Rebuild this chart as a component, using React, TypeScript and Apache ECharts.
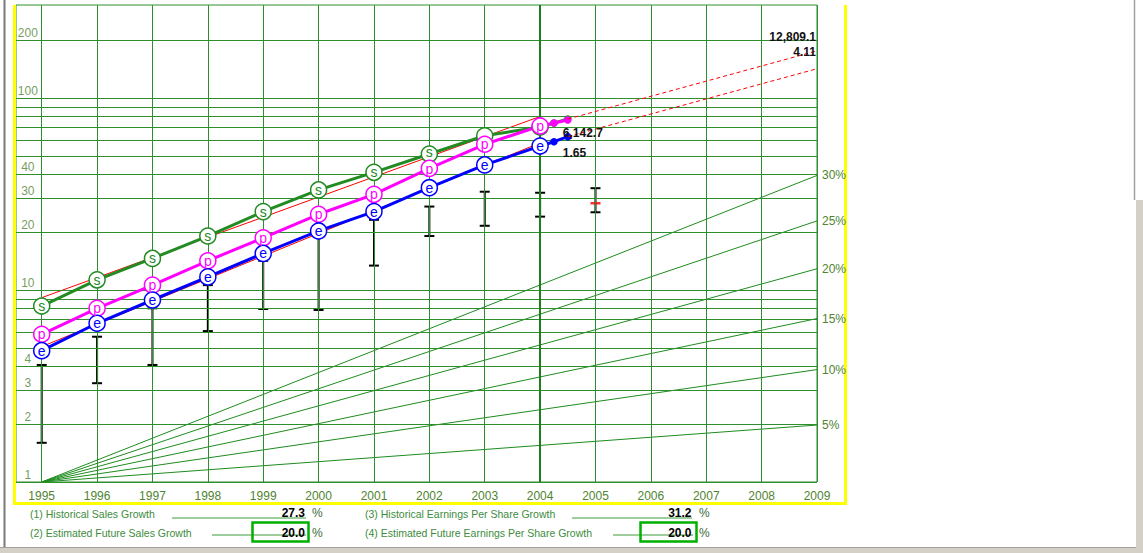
import React, { useEffect, useRef } from 'react';
import * as echarts from 'echarts';

// ---------- data ----------
const years = [1995, 1996, 1997, 1998, 1999, 2000, 2001, 2002, 2003, 2004];
const salesVals = [8.25, 11.3, 14.6, 19.1, 25.6, 33.2, 41.0, 51.1, 63.6, 70.6];
const salesTailX = [2004.25, 2004.5];
const salesTailY = [74.0, 77.7];
// sales markers whose letter is hidden behind the pretax markers in the reference
const salesHiddenLetters = [2003, 2004];
const pretaxVals = [5.88, 8.03, 10.6, 14.2, 18.7, 24.8, 31.5, 43.0, 57.4, 71.5];
const pretaxTailX = [2004.25, 2004.5];
const pretaxTailY = [74.1, 76.8];
const epsVals = [4.83, 6.71, 8.87, 11.7, 15.5, 20.3, 25.6, 34.1, 44.8, 56.2];
const epsTailX = [2004.25, 2004.5];
const epsTailY = [59.2, 62.9];

const priceYears = [1995, 1996, 1997, 1998, 1999, 2000, 2001, 2002, 2003, 2004, 2005];
const priceHigh = [4.07, 5.71, 8.03, 10.6, 14.2, 21.5, 23.2, 27.2, 32.5, 32.1, 33.9];
const priceLow = [1.6, 3.27, 4.07, 6.11, 7.96, 7.87, 13.4, 19.1, 21.6, 24.1, 25.4];
const currentPriceYear = 2005;
const currentPrice = 28.3;

const salesTrendX = [1995, 2004];
const salesTrendY = [9.12, 80.1];
const epsTrendX = [1995, 2004];
const epsTrendY = [5.07, 58.4];

const salesProjX = [2004.5, 2009];
const salesProjY = [77.7, 176];
const salesProjLabels = ['6,142.7', '12,809.1'];
const epsProjX = [2004.5, 2009];
const epsProjY = [62.9, 142];
const epsProjLabels = ['1.65', '4.11'];

const rateLabels = ['5%', '10%', '15%', '20%', '25%', '30%'];
const rateEndVals = [1.98, 3.85, 7.1, 12.9, 22.9, 39.5];
const rateStartYear = 1995;
const rateEndYear = 2009;

const xYears = [1995, 1996, 1997, 1998, 1999, 2000, 2001, 2002, 2003, 2004, 2005, 2006, 2007, 2008, 2009];
const yGridVals = [1, 2, 3, 4, 5, 6, 7, 8, 9, 10, 20, 30, 40, 50, 60, 70, 80, 90, 100, 200];
const yLabelVals = [1, 2, 3, 4, 10, 20, 30, 40, 100, 200];

const statsLabels = [
  '(1) Historical Sales Growth',
  '(2) Estimated Future Sales Growth',
  '(3) Historical Earnings Per Share Growth',
  '(4) Estimated Future Earnings Per Share Growth',
];
const statsValues = ['27.3', '20.0', '31.2', '20.0'];

// ---------- styles ----------
const FONT = '"Liberation Sans", Arial, sans-serif';
const GRID_GREEN = '#2f8f2f';
const LABEL_GREEN = '#4f8430';
const SALES = '#228b22';
const PRETAX = '#ff00ff';
const EPS = '#0000ff';

export default function App() {
  const ref = useRef<HTMLDivElement>(null);

  useEffect(() => {
    document.body.style.margin = '0';
    const chart = echarts.init(ref.current!, null, { renderer: 'svg' });

    const markerSeries = (
      name: string,
      vals: number[],
      tailX: number[],
      tailY: number[],
      color: string,
      letter: string,
      hidden: number[],
      nudgeYear: number,
      nudge: number,
    ) => ({
      name,
      type: 'line',
      silent: true,
      symbol: 'circle',
      symbolSize: 16,
      lineStyle: { color, width: 3 },
      itemStyle: { color: '#ffffff', borderColor: color, borderWidth: 1.5 },
      label: {
        show: true,
        position: 'inside',
        formatter: letter,
        color,
        fontSize: 14,
        lineHeight: 12,
        fontFamily: FONT,
      },
      data: [
        ...vals.map((v, i) => {
          if (hidden.includes(years[i])) return { value: [years[i], v], label: { show: false } };
          if (years[i] === nudgeYear) return { value: [years[i], v], label: { offset: [0, nudge] } };
          return { value: [years[i], v] };
        }),
        ...tailX.map((x, i) => ({
          value: [x, tailY[i]],
          symbolSize: 6,
          itemStyle: { color, borderColor: color },
          label: { show: false },
        })),
      ],
      z: 5,
    });

    const projSeries = (xs: number[], ys: number[], labels: string[], offStart: number[], offEnd: number[]) => ({
      type: 'line',
      silent: true,
      symbol: 'circle',
      symbolSize: 0,
      lineStyle: { color: '#ff0000', width: 1, type: [4, 3] },
      itemStyle: { color: '#ff0000' },
      label: { show: true, color: '#111', fontWeight: 'bold', fontSize: 12, fontFamily: FONT, distance: 0 },
      data: [
        { value: [xs[0], ys[0]], label: { formatter: labels[0], position: 'right', offset: offStart } },
        { value: [xs[1], ys[1]], label: { formatter: labels[1], position: 'left', offset: offEnd } },
      ],
      z: 6,
    });

    const option: any = {
      animation: false,
      backgroundColor: '#ffffff',
      grid: { left: 16, top: 5, width: 801, height: 477, show: true, borderColor: GRID_GREEN, borderWidth: 1, backgroundColor: 'transparent' },
      xAxis: {
        type: 'value',
        min: 1994.536,
        max: 2009,
        axisLine: { show: false },
        axisTick: { show: false },
        splitLine: { show: false },
        axisLabel: {
          customValues: xYears,
          color: LABEL_GREEN,
          fontSize: 12,
          fontFamily: FONT,
          margin: 8,
          formatter: (v: number) => String(Math.round(v)),
        },
      },
      yAxis: {
        type: 'log',
        logBase: 10,
        min: 1,
        max: 305,
        axisLine: { show: false },
        axisTick: { show: false },
        splitLine: { show: false },
        axisLabel: { show: false },
      },
      series: [
        {
          type: 'line',
          silent: true,
          symbol: 'none',
          data: [[1995, 1]],
          lineStyle: { width: 0 },
          markLine: {
            silent: true,
            symbol: ['none', 'none'],
            label: { show: false },
            lineStyle: { color: GRID_GREEN, width: 1, type: 'solid' },
            data: [
              ...yGridVals.map((v) => ({ yAxis: v })),
              ...xYears.map((y) => ({
                xAxis: y,
                lineStyle: y === 2004 ? { color: '#1c7f1c', width: 2, type: 'solid' } : { color: GRID_GREEN, width: 1, type: 'solid' },
              })),
            ],
          },
          z: 1,
        },
        {
          type: 'scatter',
          silent: true,
          symbolSize: 0,
          data: yLabelVals.map((v) => [1994.75, v]),
          label: {
            show: true,
            position: 'top',
            distance: 1,
            formatter: (p: any) => String(p.value[1]),
            color: LABEL_GREEN,
            fontSize: 12,
            fontFamily: FONT,
          },
          z: 2,
        },
        ...rateLabels.map((lbl, i) => ({
          type: 'line',
          silent: true,
          symbol: 'none',
          lineStyle: { color: '#1e8c1e', width: 1 },
          data: [
            [rateStartYear, 1],
            [rateEndYear, rateEndVals[i]],
          ],
          endLabel: { show: true, formatter: lbl, color: LABEL_GREEN, fontSize: 12, fontFamily: FONT, distance: 5 },
          z: 2,
        })),
        {
          type: 'custom',
          silent: true,
          renderItem: (params: any, api: any) => {
            const x = api.value(0);
            const hi = api.coord([x, api.value(1)]);
            const lo = api.coord([x, api.value(2)]);
            const w = 5;
            const st = { stroke: '#000000', lineWidth: 2 };
            return {
              type: 'group',
              children: [
                { type: 'line', shape: { x1: hi[0], y1: hi[1], x2: lo[0], y2: lo[1] }, style: st },
                { type: 'line', shape: { x1: hi[0] - w, y1: hi[1], x2: hi[0] + w, y2: hi[1] }, style: st },
                { type: 'line', shape: { x1: lo[0] - w, y1: lo[1], x2: lo[0] + w, y2: lo[1] }, style: st },
              ],
            };
          },
          data: priceYears.map((y, i) => [y, priceHigh[i], priceLow[i]]),
          z: 3,
        },
        {
          type: 'scatter',
          silent: true,
          symbol: 'rect',
          symbolSize: [10, 2.5],
          itemStyle: { color: '#ff0000' },
          data: [[currentPriceYear, currentPrice]],
          z: 4,
        },
        {
          type: 'line',
          silent: true,
          symbol: 'none',
          lineStyle: { color: '#ff0000', width: 1 },
          data: salesTrendX.map((x, i) => [x, salesTrendY[i]]),
          z: 4,
        },
        {
          type: 'line',
          silent: true,
          symbol: 'none',
          lineStyle: { color: '#ff0000', width: 1 },
          data: epsTrendX.map((x, i) => [x, epsTrendY[i]]),
          z: 4,
        },
        markerSeries('Sales', salesVals, salesTailX, salesTailY, SALES, 's', salesHiddenLetters, 2002, -1.5),
        markerSeries('Pretax', pretaxVals, pretaxTailX, pretaxTailY, PRETAX, 'p', [], 2002, 1),
        markerSeries('EPS', epsVals, epsTailX, epsTailY, EPS, 'e', [], 0, 0),
        projSeries(salesProjX, salesProjY, salesProjLabels, [-5, 14], [-1, -14]),
        projSeries(epsProjX, epsProjY, epsProjLabels, [-5, 16], [-1, -16.5]),
      ],
      graphic: {
        elements: [
          // window chrome
          { type: 'line', silent: true, shape: { x1: 4.5, y1: 0, x2: 4.5, y2: 548 }, style: { stroke: '#7a7a7a', lineWidth: 2 } },
          { type: 'rect', silent: true, shape: { x: 0, y: 548, width: 1143, height: 5 }, style: { fill: '#d4d0c8' } },
          { type: 'line', silent: true, shape: { x1: 0, y1: 547.5, x2: 1143, y2: 547.5 }, style: { stroke: '#a0a0a0', lineWidth: 1 } },
          { type: 'line', silent: true, shape: { x1: 1134.5, y1: 0, x2: 1134.5, y2: 200 }, style: { stroke: '#a0a0a0', lineWidth: 1.5 } },
          { type: 'rect', silent: true, shape: { x: 1136, y: 200, width: 7, height: 348 }, style: { fill: '#d4d0c8' } },
          // yellow frame
          {
            type: 'polyline',
            silent: true,
            shape: { points: [[14.5, 5], [14.5, 503.5], [845.5, 503.5], [845.5, 5]] },
            style: { stroke: '#ffff00', lineWidth: 3, fill: null },
          },
          // stats rows
          { type: 'text', silent: true, style: { text: statsLabels[0], x: 30, y: 513.5, fill: '#3d8b3d', font: `10.5px ${FONT}`, verticalAlign: 'middle' } },
          { type: 'line', silent: true, shape: { x1: 172, y1: 518, x2: 306, y2: 518 }, style: { stroke: '#3d9b3d', lineWidth: 1 } },
          { type: 'text', silent: true, style: { text: statsValues[0], x: 305, y: 513, fill: '#000', font: `bold 12px ${FONT}`, align: 'right', verticalAlign: 'middle' } },
          { type: 'text', silent: true, style: { text: '%', x: 312, y: 513, fill: '#3a6a3a', font: `12px ${FONT}`, verticalAlign: 'middle' } },

          { type: 'text', silent: true, style: { text: statsLabels[1], x: 30, y: 533, fill: '#3d8b3d', font: `10.5px ${FONT}`, verticalAlign: 'middle' } },
          { type: 'line', silent: true, shape: { x1: 212, y1: 535, x2: 306, y2: 535 }, style: { stroke: '#3d9b3d', lineWidth: 1 } },
          { type: 'rect', silent: true, shape: { x: 252.5, y: 522.5, width: 56, height: 19 }, style: { stroke: '#00b000', lineWidth: 2.5, fill: null } },
          { type: 'text', silent: true, style: { text: statsValues[1], x: 305, y: 532.5, fill: '#000', font: `bold 12px ${FONT}`, align: 'right', verticalAlign: 'middle' } },
          { type: 'text', silent: true, style: { text: '%', x: 312, y: 532.5, fill: '#3a6a3a', font: `12px ${FONT}`, verticalAlign: 'middle' } },

          { type: 'text', silent: true, style: { text: statsLabels[2], x: 365, y: 513.5, fill: '#3d8b3d', font: `10.5px ${FONT}`, verticalAlign: 'middle' } },
          { type: 'line', silent: true, shape: { x1: 572, y1: 518, x2: 692, y2: 518 }, style: { stroke: '#3d9b3d', lineWidth: 1 } },
          { type: 'text', silent: true, style: { text: statsValues[2], x: 691.5, y: 513, fill: '#000', font: `bold 12px ${FONT}`, align: 'right', verticalAlign: 'middle' } },
          { type: 'text', silent: true, style: { text: '%', x: 699, y: 513, fill: '#3a6a3a', font: `12px ${FONT}`, verticalAlign: 'middle' } },

          { type: 'text', silent: true, style: { text: statsLabels[3], x: 365, y: 533, fill: '#3d8b3d', font: `10.5px ${FONT}`, verticalAlign: 'middle' } },
          { type: 'line', silent: true, shape: { x1: 613, y1: 535, x2: 693, y2: 535 }, style: { stroke: '#3d9b3d', lineWidth: 1 } },
          { type: 'rect', silent: true, shape: { x: 640.5, y: 522.5, width: 56, height: 19 }, style: { stroke: '#00b000', lineWidth: 2.5, fill: null } },
          { type: 'text', silent: true, style: { text: statsValues[3], x: 691.5, y: 532.5, fill: '#000', font: `bold 12px ${FONT}`, align: 'right', verticalAlign: 'middle' } },
          { type: 'text', silent: true, style: { text: '%', x: 699, y: 532.5, fill: '#3a6a3a', font: `12px ${FONT}`, verticalAlign: 'middle' } },
        ],
      },
    };

    chart.setOption(option);
    return () => chart.dispose();
  }, []);

  return (
    <div
      ref={ref}
      style={{ position: 'absolute', left: 0, top: 0, width: 1143, height: 553, background: '#ffffff' }}
    />
  );
}
